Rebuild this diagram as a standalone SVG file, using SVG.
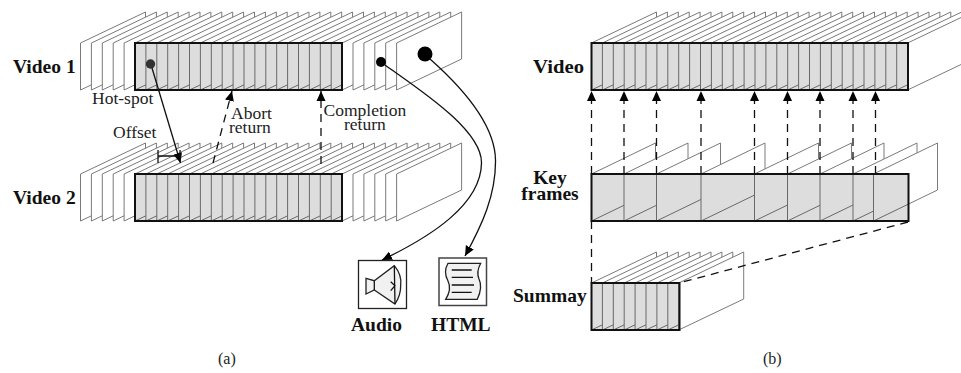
<svg xmlns="http://www.w3.org/2000/svg" xmlns:xlink="http://www.w3.org/1999/xlink" width="961" height="373" viewBox="0 0 961 373">
<style>
.f{fill:#fff;stroke:#7a7a7a;stroke-width:1}
.g{fill:#000;fill-opacity:.135;stroke:#111;stroke-width:2}
.c{fill:none;stroke:#111;stroke-width:1.3}
.d{fill:none;stroke:#111;stroke-width:1.3;stroke-dasharray:8 6}
.b{font-family:"Liberation Serif",serif;font-weight:bold;font-size:19.5px;fill:#111}
.t{font-family:"Liberation Serif",serif;font-size:17.5px;fill:#222}
.p{font-family:"Liberation Serif",serif;font-size:16px;fill:#222}
.i{fill:#f1f1f1;stroke:#222;stroke-width:1.3}
</style>
<defs>
<polygon id="fr" class="f" points="0,0 65,-31 65,16 0,47"/>
<polygon id="kf" class="f" points="0,0 64,-31 64,16 0,47"/>
<marker id="a" markerUnits="userSpaceOnUse" markerWidth="11" markerHeight="11" refX="10" refY="5" orient="auto"><path d="M0,0.5 L10,5 L0,9.5 Z" fill="#000"/></marker>
</defs>
<rect width="961" height="373" fill="#fff"/>
<g id="video1">
<g transform="translate(0,43)">
<use href="#fr" x="80.5"/><use href="#fr" x="91.4"/><use href="#fr" x="102.3"/><use href="#fr" x="113.2"/><use href="#fr" x="124.1"/><use href="#fr" x="135"/><use href="#fr" x="145.9"/><use href="#fr" x="156.8"/><use href="#fr" x="167.7"/><use href="#fr" x="178.6"/><use href="#fr" x="189.5"/><use href="#fr" x="200.4"/><use href="#fr" x="211.3"/><use href="#fr" x="222.2"/><use href="#fr" x="233.1"/><use href="#fr" x="244"/><use href="#fr" x="254.9"/><use href="#fr" x="265.8"/><use href="#fr" x="276.7"/><use href="#fr" x="287.6"/><use href="#fr" x="298.5"/><use href="#fr" x="309.4"/><use href="#fr" x="320.3"/><use href="#fr" x="331.2"/><use href="#fr" x="342.1"/><use href="#fr" x="353"/><use href="#fr" x="363.9"/><use href="#fr" x="374.8"/><use href="#fr" x="385.7"/><use href="#fr" x="396.6"/>
</g>
<rect class="g" x="135" y="43" width="207" height="47"/>
<text class="b" x="13" y="73">Video 1</text>
<circle cx="150.5" cy="64" r="4.7" fill="#333"/>
<circle cx="381" cy="62" r="5" fill="#000"/>
<circle cx="425" cy="54" r="7.5" fill="#000"/>
</g>
<g id="video2">
<g transform="translate(0,174)">
<use href="#fr" x="80.5"/><use href="#fr" x="91.4"/><use href="#fr" x="102.3"/><use href="#fr" x="113.2"/><use href="#fr" x="124.1"/><use href="#fr" x="135"/><use href="#fr" x="145.9"/><use href="#fr" x="156.8"/><use href="#fr" x="167.7"/><use href="#fr" x="178.6"/><use href="#fr" x="189.5"/><use href="#fr" x="200.4"/><use href="#fr" x="211.3"/><use href="#fr" x="222.2"/><use href="#fr" x="233.1"/><use href="#fr" x="244"/><use href="#fr" x="254.9"/><use href="#fr" x="265.8"/><use href="#fr" x="276.7"/><use href="#fr" x="287.6"/><use href="#fr" x="298.5"/><use href="#fr" x="309.4"/><use href="#fr" x="320.3"/><use href="#fr" x="331.2"/><use href="#fr" x="342.1"/><use href="#fr" x="353"/><use href="#fr" x="363.9"/><use href="#fr" x="374.8"/><use href="#fr" x="385.7"/><use href="#fr" x="396.6"/>
</g>
<rect class="g" x="135" y="174" width="207" height="47"/>
<text class="b" x="13" y="204">Video 2</text>
</g>
<g id="audio">
<rect x="358.5" y="260.500" width="48" height="48" fill="#fff" stroke="#222" stroke-width="1.3"/>
<path class="i" d="M366,278.3 L374.3,280.7 L394.3,265.7 Q402,275 400.7,285 Q401,295 395,304 L374.3,290 L366,294 Z"/>
<path class="c" d="M374.3,280.700 V290 M394.3,265.7 L395,304 M390.7,281.7 L395,285.7 L390.7,290.7"/>
<text class="b" x="351" y="331">Audio</text>
</g>
<g id="html">
<rect x="439" y="258" width="47.5" height="47.500" fill="#fff" stroke="#444" stroke-width="1.5"/>
<path class="i" d="M448,263.3 H480.7 Q476,272 479,279 Q483,287 477.3,299.3 H445.7 Q452,289 448,281 Q443,272 448,263.3 Z"/>
<path class="c" d="M451.7,270 H471.7 M451.7,277.3 H473 M451.7,285 H474 M451.7,292.3 H471.7"/>
<text class="b" x="431" y="331">HTML</text>
</g>
<g id="video">
<g transform="translate(0,43)">
<use href="#fr" x="591.5"/><use href="#fr" x="602.4"/><use href="#fr" x="613.3"/><use href="#fr" x="624.2"/><use href="#fr" x="635.1"/><use href="#fr" x="646"/><use href="#fr" x="656.9"/><use href="#fr" x="667.8"/><use href="#fr" x="678.7"/><use href="#fr" x="689.6"/><use href="#fr" x="700.5"/><use href="#fr" x="711.4"/><use href="#fr" x="722.3"/><use href="#fr" x="733.2"/><use href="#fr" x="744.1"/><use href="#fr" x="755"/><use href="#fr" x="765.9"/><use href="#fr" x="776.8"/><use href="#fr" x="787.7"/><use href="#fr" x="798.6"/><use href="#fr" x="809.5"/><use href="#fr" x="820.4"/><use href="#fr" x="831.3"/><use href="#fr" x="842.2"/><use href="#fr" x="853.1"/><use href="#fr" x="864"/><use href="#fr" x="874.9"/><use href="#fr" x="885.8"/><use href="#fr" x="896.7"/><use href="#fr" x="907.6"/>
</g>
<rect class="g" x="591.5" y="43" width="316.5" height="47"/>
<text class="b" x="533" y="73" textLength="51" lengthAdjust="spacingAndGlyphs">Video</text>
</g>
<g id="keyframes">
<g transform="translate(0,174)">
<use href="#kf" x="591.5"/><use href="#kf" x="624"/><use href="#kf" x="656.5"/><use href="#kf" x="701"/><use href="#kf" x="754.5"/><use href="#kf" x="787.5"/><use href="#kf" x="820"/><use href="#kf" x="853"/><use href="#kf" x="873.5"/>
</g>
<rect class="g" x="591.5" y="174" width="317" height="47"/>
<text class="b" x="550" y="184" text-anchor="middle">Key</text>
<text class="b" x="550" y="200" text-anchor="middle">frames</text>
</g>
<g id="summary">
<g transform="translate(0,283)">
<use href="#fr" x="591.5"/><use href="#fr" x="602.4"/><use href="#fr" x="613.3"/><use href="#fr" x="624.2"/><use href="#fr" x="635.1"/><use href="#fr" x="646"/><use href="#fr" x="656.9"/><use href="#fr" x="667.8"/><use href="#fr" x="678.7"/>
</g>
<rect class="g" x="591.5" y="283" width="88" height="47"/>
<text class="b" x="513" y="302">Summay</text>
</g>
<g id="connectors">
<path class="c" marker-end="url(#a)" d="M152,68 L180.5,163"/>
<path class="d" marker-end="url(#a)" d="M213,163 L232,91"/>
<path class="d" marker-end="url(#a)" d="M321,164 V91"/>
<path class="c" d="M158,150 V163 M158,156 H180 M180,150 V160"/>
<path class="c" marker-end="url(#a)" d="M385,65 C420,90 482,130 481.5,163 C481,205 430,237 382,260"/>
<path class="c" marker-end="url(#a)" d="M430,59 C465,90 495,125 495.5,160 C496,195 482,225 465,256"/>
<path class="d" marker-end="url(#a)" d="M591.5,174 V91"/>
<path class="d" marker-end="url(#a)" d="M624,174 V91"/>
<path class="d" marker-end="url(#a)" d="M656.5,174 V91"/>
<path class="d" marker-end="url(#a)" d="M701,174 V91"/>
<path class="d" marker-end="url(#a)" d="M754.5,174 V91"/>
<path class="d" marker-end="url(#a)" d="M787.5,174 V91"/>
<path class="d" marker-end="url(#a)" d="M820,174 V91"/>
<path class="d" marker-end="url(#a)" d="M853,174 V91"/>
<path class="d" marker-end="url(#a)" d="M875.5,174 V91"/>
<path class="d" d="M591.5,221 V283"/>
<path class="d" d="M908,222 L679,283"/>
</g>
<g id="labels">
<text class="t" x="92" y="104">Hot-spot</text>
<text class="t" x="231" y="119">Abort</text>
<text class="t" x="229" y="133">return</text>
<text class="t" x="323.5" y="116">Completion</text>
<text class="t" x="344" y="130">return</text>
<text class="t" x="113" y="138">Offset</text>
<text class="p" x="218" y="364">(a)</text>
<text class="p" x="763" y="364">(b)</text>
</g>
</svg>
